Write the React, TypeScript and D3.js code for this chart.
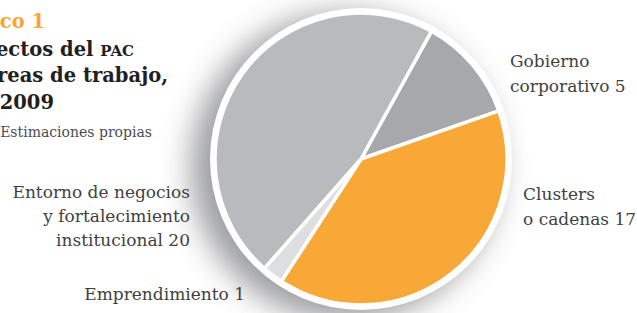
import React from 'react';
import * as d3 from 'd3';

// slices in drawing order (clockwise from the Gobierno edge)
const categories = ['Gobierno corporativo', 'Clusters o cadenas', 'Emprendimiento', 'Entorno de negocios y fortalecimiento institucional'];
const values = [5, 17, 1, 20];
const colors = ['#a7a8ab', '#f8a836', '#dddee0', '#b9babd'];

const titleLines = ['Proyectos del ', 'por áreas de trabajo,', '2004–2009'];
const source = 'Fuente: Estimaciones propias';

const width = 637;
const height = 313;
const cx = 361;
const cy = 159;
const radius = 146;
const startAngle = (28.9 * Math.PI) / 180;

const serif = '"DejaVu Serif", serif';

export default function App() {
    const pie = d3.pie<number>()
        .sort(null)
        .startAngle(startAngle)
        .endAngle(startAngle + 2 * Math.PI)
        .value(d => d);
    const arcs = pie(values);
    const arc = d3.arc<d3.PieArcDatum<number>>().innerRadius(0).outerRadius(radius);

    return (
        <svg width={width} height={height} viewBox={`0 0 ${width} ${height}`}
            style={{ position: 'absolute', left: 0, top: 0, background: '#fff' }}>
            <defs>
                <filter id="shadow" x="-50%" y="-50%" width="200%" height="200%">
                    <feGaussianBlur stdDeviation="15" />
                </filter>
            </defs>

            {/* title block, cut off on the left */}
            <g fontFamily={serif}>
                <text x={45} y={28} textAnchor="end" fontSize={19.5} fontWeight="bold" fill="#f7a537">Gráfico 1</text>
                <text x={134} y={56} textAnchor="end" fontSize={19.5} fontWeight="bold" fill="#231f20">
                    {titleLines[0]}<tspan fontSize={15}>PAC</tspan>
                </text>
                <text x={168} y={82} textAnchor="end" fontSize={19.5} fontWeight="bold" fill="#231f20">{titleLines[1]}</text>
                <text x={54} y={109} textAnchor="end" fontSize={19.5} fontWeight="bold" fill="#231f20">{titleLines[2]}</text>
                <text x={152} y={137} textAnchor="end" fontSize={14} fill="#4d4d4f">{source}</text>
            </g>

            {/* pie */}
            <circle cx={cx - 16} cy={cy + 8} r={radius + 8} fill="#7d7e81" opacity={0.75} filter="url(#shadow)" />
            <circle cx={cx} cy={cy} r={radius + 5} fill="#fff" />
            <g transform={`translate(${cx},${cy})`}>
                {arcs.map((a, i) => (
                    <path key={categories[i]} d={arc(a) ?? ''} fill={colors[i]} stroke="#fff" strokeWidth={3.5} strokeLinejoin="round" />
                ))}
            </g>

            {/* labels */}
            <g fontFamily={serif} fontSize={17} fill="#3f3f41">
                <text x={510} y={67}>Gobierno</text>
                <text x={510} y={92}>corporativo {values[0]}</text>
                <text x={523} y={200}>Clusters</text>
                <text x={523} y={225}>o cadenas {values[1]}</text>
                <text x={190} y={198} textAnchor="end">Entorno de negocios</text>
                <text x={190} y={222} textAnchor="end">y fortalecimiento</text>
                <text x={190} y={246} textAnchor="end">institucional {values[3]}</text>
                <text x={245} y={300} textAnchor="end">Emprendimiento {values[2]}</text>
            </g>
        </svg>
    );
}
